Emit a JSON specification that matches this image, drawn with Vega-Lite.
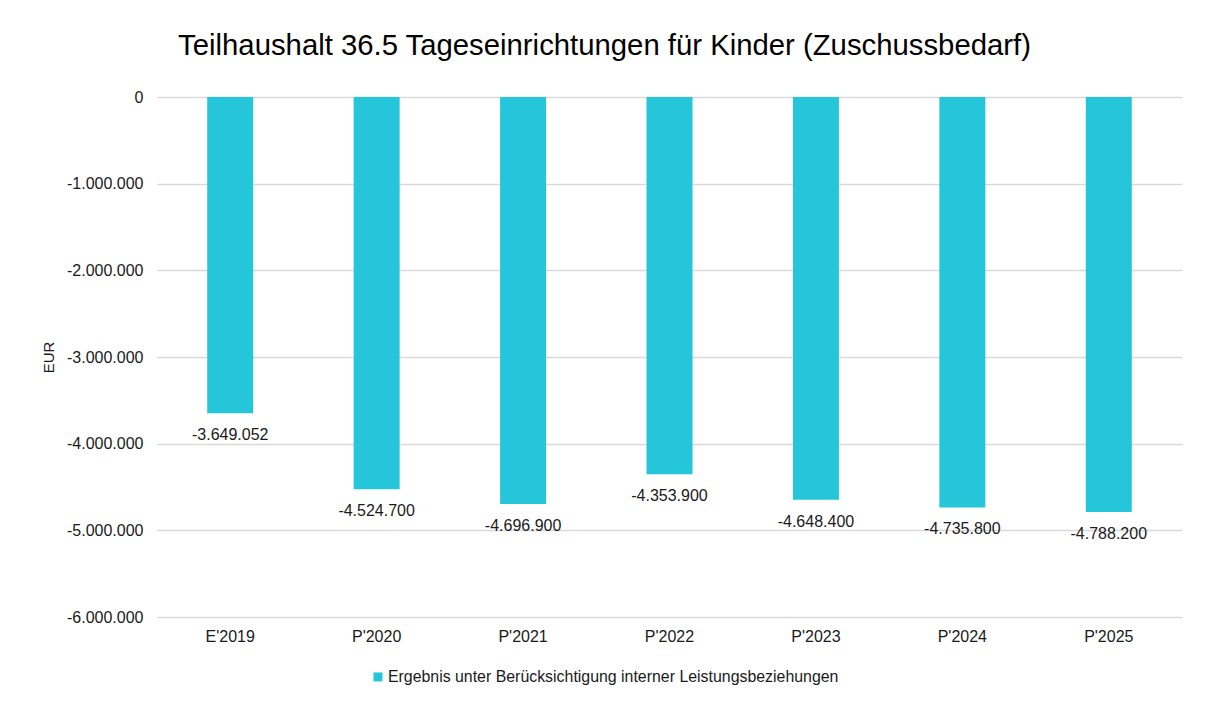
{
  "$schema": "https://vega.github.io/schema/vega-lite/v6.json",
  "width": 1025,
  "height": 520,
  "autosize": {"type": "none"},
  "padding": {"left": 157, "top": 97, "right": 27, "bottom": 87},
  "background": "white",
  "title": {
    "text": "Teilhaushalt 36.5 Tageseinrichtungen für Kinder (Zuschussbedarf)",
    "font": "Liberation Sans",
    "fontSize": 29.3,
    "fontWeight": "normal",
    "color": "#000000",
    "anchor": "middle",
    "frame": "group",
    "dx": -65,
    "offset": 28
  },
  "data": {
    "values": [
      {"jahr": "E'2019", "wert": -3649052, "reihe": "Ergebnis unter Berücksichtigung interner Leistungsbeziehungen"},
      {"jahr": "P'2020", "wert": -4524700, "reihe": "Ergebnis unter Berücksichtigung interner Leistungsbeziehungen"},
      {"jahr": "P'2021", "wert": -4696900, "reihe": "Ergebnis unter Berücksichtigung interner Leistungsbeziehungen"},
      {"jahr": "P'2022", "wert": -4353900, "reihe": "Ergebnis unter Berücksichtigung interner Leistungsbeziehungen"},
      {"jahr": "P'2023", "wert": -4648400, "reihe": "Ergebnis unter Berücksichtigung interner Leistungsbeziehungen"},
      {"jahr": "P'2024", "wert": -4735800, "reihe": "Ergebnis unter Berücksichtigung interner Leistungsbeziehungen"},
      {"jahr": "P'2025", "wert": -4788200, "reihe": "Ergebnis unter Berücksichtigung interner Leistungsbeziehungen"}
    ]
  },
  "encoding": {
    "x": {
      "field": "jahr",
      "type": "nominal",
      "sort": null,
      "scale": {"paddingInner": 0, "paddingOuter": 0},
      "axis": {
        "title": null,
        "labelAngle": 0,
        "domain": false,
        "ticks": false,
        "labelPadding": 11,
        "labelFontSize": 16,
        "labelFont": "Liberation Sans",
        "labelColor": "#1a1a1a"
      }
    },
    "y": {
      "field": "wert",
      "type": "quantitative",
      "scale": {"domain": [-6000000, 0], "nice": false},
      "axis": {
        "title": "EUR",
        "titleFont": "Liberation Sans",
        "titleFontSize": 15,
        "titleFontWeight": "normal",
        "titleColor": "#1a1a1a",
        "titlePadding": 10,
        "values": [0, -1000000, -2000000, -3000000, -4000000, -5000000, -6000000],
        "format": ",d",
        "domain": false,
        "ticks": false,
        "labelPadding": 14,
        "labelFontSize": 16,
        "labelFont": "Liberation Sans",
        "labelColor": "#1a1a1a",
        "gridColor": "#d9d9d9",
        "gridWidth": 1.5
      }
    }
  },
  "layer": [
    {
      "mark": {"type": "bar", "size": 46},
      "encoding": {
        "color": {
          "field": "reihe",
          "type": "nominal",
          "scale": {"range": ["#26C6DA"]},
          "legend": {
            "title": null,
            "orient": "none",
            "legendX": 213,
            "legendY": 572,
            "symbolType": "square",
            "symbolSize": 81,
            "symbolStrokeWidth": 0,
            "labelFont": "Liberation Sans",
            "labelFontSize": 15.9,
            "labelColor": "#1a1a1a",
            "labelLimit": 1000,
            "labelOffset": 2
          }
        }
      }
    },
    {
      "mark": {
        "type": "text",
        "baseline": "top",
        "dy": 14,
        "font": "Liberation Sans",
        "fontSize": 16,
        "color": "#1a1a1a"
      },
      "encoding": {
        "text": {"field": "wert", "type": "quantitative", "format": ",d"}
      }
    }
  ],
  "config": {
    "locale": {
      "number": {
        "decimal": ",",
        "thousands": ".",
        "grouping": [3],
        "currency": ["", " €"],
        "minus": "-"
      }
    },
    "view": {"stroke": null}
  }
}
